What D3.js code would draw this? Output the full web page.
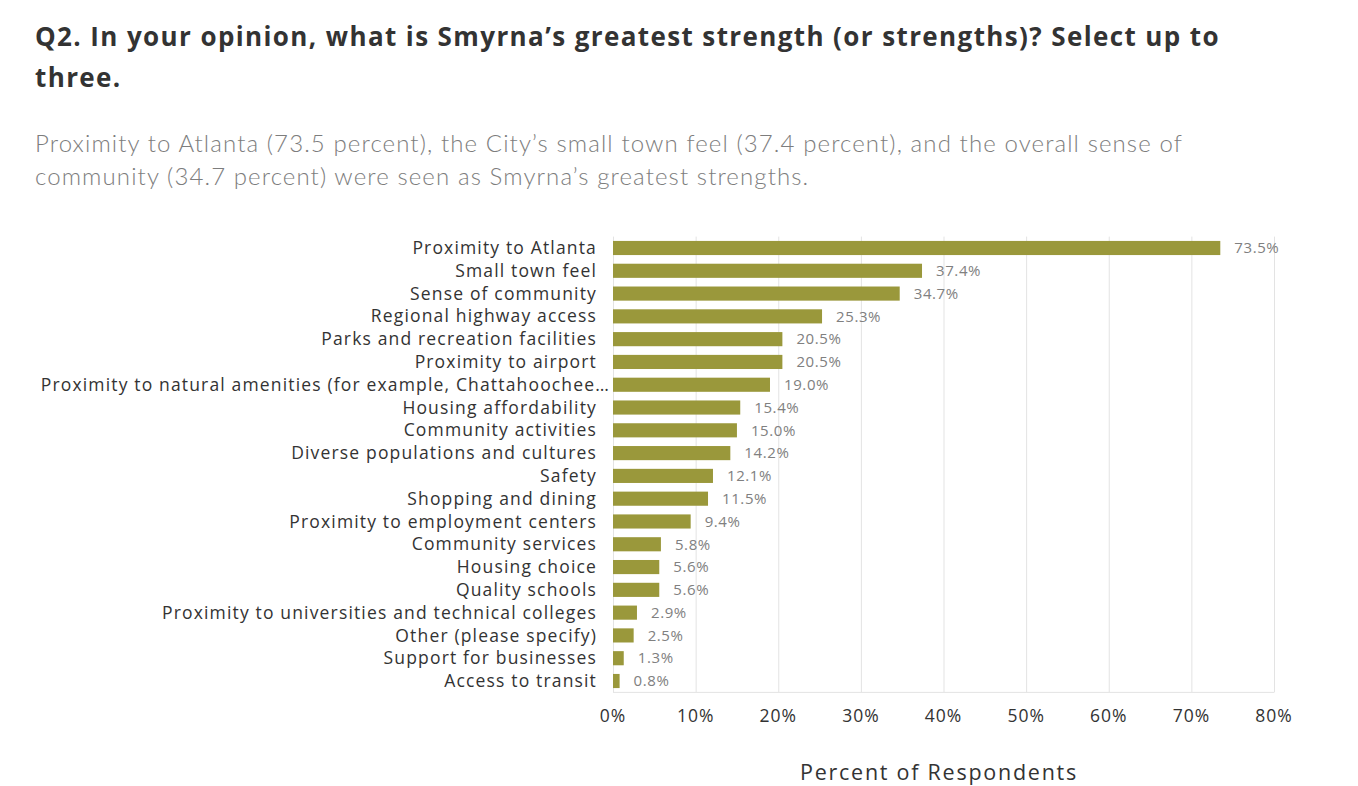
<!DOCTYPE html>
<meta charset="utf-8">
<style>
body { margin: 0; background: #fff; }
svg { font-family: "Open Sans", Lato, sans-serif; }
.grid line { stroke: #e3e3e3; stroke-width: 1px; }
.grid .domain { display: none; }
.bar { fill: #9a983b; }
</style>
<svg width="1358" height="786"></svg>
<script src="https://d3js.org/d3.v7.min.js"></script>
<script>

var categories = [
  "Proximity to Atlanta",
  "Small town feel",
  "Sense of community",
  "Regional highway access",
  "Parks and recreation facilities",
  "Proximity to airport",
  "Proximity to natural amenities (for example, Chattahoochee…",
  "Housing affordability",
  "Community activities",
  "Diverse populations and cultures",
  "Safety",
  "Shopping and dining",
  "Proximity to employment centers",
  "Community services",
  "Housing choice",
  "Quality schools",
  "Proximity to universities and technical colleges",
  "Other (please specify)",
  "Support for businesses",
  "Access to transit"
];
var values = [73.5, 37.4, 34.7, 25.3, 20.5, 20.5, 19.0, 15.4, 15.0, 14.2,
              12.1, 11.5, 9.4, 5.8, 5.6, 5.6, 2.9, 2.5, 1.3, 0.8];
var xTicks = [0, 10, 20, 30, 40, 50, 60, 70, 80];

var titleLines = [
  "Q2. In your opinion, what is Smyrna’s greatest strength (or strengths)? Select up to",
  "three."
];
var subtitleLines = [
  "Proximity to Atlanta (73.5 percent), the City’s small town feel (37.4 percent), and the overall sense of",
  "community (34.7 percent) were seen as Smyrna’s greatest strengths."
];
var axisTitle = "Percent of Respondents";

var svg = d3.select("svg");
var data = categories.map(function(c, i) { return {name: c, value: values[i]}; });

// letter spacing that makes a text fill a given width
function fitSpacing(sel, target) {
  var w = sel.node().getComputedTextLength();
  return (target - w) / sel.text().length;
}

// title
var title = svg.append("g")
    .attr("font-weight", "bold")
    .attr("fill", "#333");
var t0 = title.append("text").attr("x", 35).attr("y", 46)
    .attr("font-size", 26).text(titleLines[0]);
var tls = fitSpacing(t0, 1185);
t0.attr("letter-spacing", tls);
title.append("text").attr("x", 35).attr("y", 87)
    .attr("font-size", 26).attr("letter-spacing", tls).text(titleLines[1]);

// subtitle
var sub = svg.append("g").attr("fill", "#7d7d7d").attr("font-weight", 300)
    .attr("font-family", "Lato, 'Open Sans', sans-serif");
var s0 = sub.append("text").attr("x", 35).attr("y", 152)
    .attr("font-size", 24).text(subtitleLines[0]);
var sls = fitSpacing(s0, 1148);
s0.attr("letter-spacing", sls);
sub.append("text").attr("x", 35).attr("y", 185)
    .attr("font-size", 24).attr("letter-spacing", sls).text(subtitleLines[1]);

// chart
var x = d3.scaleLinear().domain([0, 80]).range([613, 1274]);
var y = d3.scaleBand().domain(categories).range([236.6, 692.4])
    .paddingInner(0.38).paddingOuter(0.19);

svg.append("g")
    .attr("class", "grid")
    .attr("transform", "translate(0,692.4)")
    .call(d3.axisBottom(x).tickValues(xTicks).tickSize(-(692.4 - 236.6)).tickFormat(""));

svg.append("line")
    .attr("x1", x(0)).attr("x2", x(80))
    .attr("y1", 692.4).attr("y2", 692.4)
    .attr("stroke", "#e3e3e3");

svg.selectAll(".bar")
  .data(data)
  .enter().append("rect")
    .attr("class", "bar")
    .attr("x", x(0))
    .attr("y", function(d) { return y(d.name); })
    .attr("width", function(d) { return x(d.value) - x(0); })
    .attr("height", y.bandwidth());

// category labels
var labels = svg.append("g").attr("fill", "#333").attr("text-anchor", "end");
var probe = labels.append("text").attr("font-size", 17.5).text(categories[16]);
var lls = fitSpacing(probe, 435);
probe.remove();
labels.selectAll("text")
  .data(data)
  .enter().append("text")
    .attr("x", function(d) { return /…$/.test(d.name) ? 610 : 597; })
    .attr("y", function(d) { return y(d.name) + y.bandwidth() / 2; })
    .attr("dy", "0.35em")
    .attr("font-size", 17.5)
    .attr("letter-spacing", lls)
    .text(function(d) { return d.name; });

// value labels
svg.append("g").attr("fill", "#808080")
  .selectAll("text")
  .data(data)
  .enter().append("text")
    .attr("x", function(d) { return x(d.value) + 14; })
    .attr("y", function(d) { return y(d.name) + y.bandwidth() / 2; })
    .attr("dy", "0.35em")
    .attr("font-size", 15)
    .attr("letter-spacing", 0.6)
    .text(function(d) { return d.value.toFixed(1) + "%"; });

// x tick labels
svg.append("g").attr("fill", "#333").attr("text-anchor", "middle")
  .selectAll("text")
  .data(xTicks)
  .enter().append("text")
    .attr("x", function(d) { return x(d); })
    .attr("y", 722)
    .attr("font-size", 17.5)
    .attr("letter-spacing", 1)
    .text(function(d) { return d + "%"; });

var at = svg.append("text")
    .attr("x", 939).attr("y", 780)
    .attr("text-anchor", "middle")
    .attr("fill", "#333")
    .attr("font-size", 21.5)
    .text(axisTitle);
at.attr("letter-spacing", fitSpacing(at, 278));

</script>
